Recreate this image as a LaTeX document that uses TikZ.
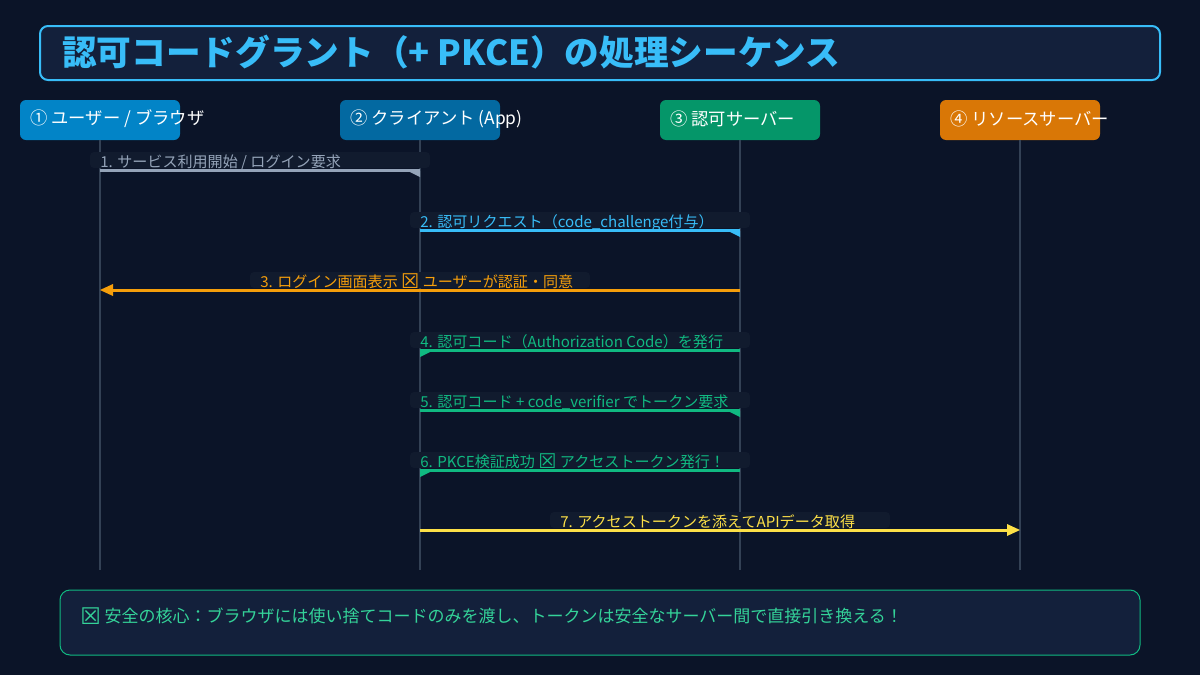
\documentclass[tikz,border=0pt]{standalone}
\usepackage{fontspec}
\setmainfont{Noto Sans CJK JP}
\newfontfamily\symfont{DejaVu Sans}
\usetikzlibrary{calc}
\definecolor{bgc}{HTML}{0B1428}
\definecolor{panel}{HTML}{13203B}
\definecolor{titlec}{HTML}{38BDF8}
\definecolor{labelbg}{HTML}{111B2E}
\definecolor{lifec}{HTML}{334155}
\definecolor{hA}{HTML}{0284C7}
\definecolor{hB}{HTML}{0369A1}
\definecolor{hC}{HTML}{059669}
\definecolor{hD}{HTML}{D97706}
\definecolor{mgray}{HTML}{94A3B8}
\definecolor{mblue}{HTML}{38BDF8}
\definecolor{morange}{HTML}{F59E0B}
\definecolor{mgreen}{HTML}{10B981}
\definecolor{myellow}{HTML}{FDE047}
\definecolor{foottext}{HTML}{34D399}
\newcommand{\xbox}{\raisebox{-0.1em}{\scalebox{1.35}{\symfont ☒}}}
\tikzset{
  headbox/.style={rounded corners=4.5pt, minimum width=120pt, minimum height=30pt, inner sep=0pt},
  headtext/.style={anchor=west, text=white, font=\fontsize{13}{15}\selectfont, inner sep=0pt},
  lifeline/.style={draw=lifec, line width=1.5pt},
  lblbg/.style={fill=labelbg, rounded corners=3pt, minimum width=255pt, minimum height=12pt, inner sep=0pt},
  lbltext/.style={anchor=base west, font=\fontsize{11.3}{13}\selectfont, inner sep=0pt},
  msg/.style={line width=2.25pt},
}
\begin{document}
\begin{tikzpicture}[x=0.75pt,y=-0.75pt]
\useasboundingbox (0,0) rectangle (1200,675);
\fill[bgc] (0,0) rectangle (1200,675);
% title
\node[draw=titlec, fill=panel, line width=1.5pt, rounded corners=6pt, minimum width=840pt, minimum height=40.5pt, inner sep=0pt] (title) at (600,53) {};
\node[anchor=west, text=titlec, inner sep=0pt, font=\fontsize{26}{30}\bfseries\selectfont] (titletext) at (62,52) {認可コードグラント（+ PKCE）の処理シーケンス};
% heads
\node[headbox, fill=hA] (h1) at (100,120) {};
\node[headbox, fill=hB] (h2) at (420,120) {};
\node[headbox, fill=hC] (h3) at (740,120) {};
\node[headbox, fill=hD] (h4) at (1020,120) {};
\node[headtext] (h1t) at (30,119) {① ユーザー / ブラウザ};
\node[headtext] (h2t) at (350,119) {② クライアント (App)};
\node[headtext] (h3t) at (670,119) {③ 認可サーバー};
\node[headtext] (h4t) at (950,119) {④ リソースサーバー};
% lifelines
\coordinate (e1) at (100,570);
\coordinate (e2) at (420,570);
\coordinate (e3) at (740,570);
\coordinate (e4) at (1020,570);
\draw[lifeline] (h1.south) -- (e1);
\draw[lifeline] (h2.south) -- (e2);
\draw[lifeline] (h3.south) -- (e3);
\draw[lifeline] (h4.south) -- (e4);
% message coordinates
\coordinate (m1a) at (100,170); \coordinate (m1b) at (420,170);
\coordinate (m2a) at (420,230); \coordinate (m2b) at (740,230);
\coordinate (m3a) at (740,290); \coordinate (m3b) at (100,290);
\coordinate (m4a) at (740,350); \coordinate (m4b) at (420,350);
\coordinate (m5a) at (420,410); \coordinate (m5b) at (740,410);
\coordinate (m6a) at (740,470); \coordinate (m6b) at (420,470);
\coordinate (m7a) at (420,530); \coordinate (m7b) at (1020,530);
% labels
\node[lblbg] (l1bg) at (260,160) {};
\node[lbltext, text=mgray] (l1) at (100,167) {1. サービス利用開始 / ログイン要求};
\node[lblbg] (l2bg) at (580,220) {};
\node[lbltext, text=mblue] (l2) at (420,227.5) {2. 認可リクエスト（code\_challenge付与）};
\node[lblbg] (l3bg) at (420,280) {};
\node[lbltext, text=morange] (l3) at (260,287) {3. ログイン画面表示 \xbox{} ユーザーが認証・同意};
\node[lblbg] (l4bg) at (580,340) {};
\node[lbltext, text=mgreen] (l4) at (420,347) {4. 認可コード（Authorization Code）を発行};
\node[lblbg] (l5bg) at (580,400) {};
\node[lbltext, text=mgreen] (l5) at (420,407.5) {5. 認可コード + code\_verifier でトークン要求};
\node[lblbg] (l6bg) at (580,460) {};
\node[lbltext, text=mgreen] (l6) at (420,467) {6. PKCE検証成功 \xbox{} アクセストークン発行！};
\node[lblbg] (l7bg) at (720,520) {};
\node[lbltext, text=myellow] (l7) at (560,527) {7. アクセストークンを添えてAPIデータ取得};
% messages
\draw[msg, mgray] (m1a) -- (m1b);
\fill[mgray] ($(m1b)+(-12,1)$) -- ($(m1b)+(0,1)$) -- ($(m1b)+(0,7)$) -- cycle;
\draw[msg, mblue] (m2a) -- (m2b);
\fill[mblue] ($(m2b)+(-12,1)$) -- ($(m2b)+(0,1)$) -- ($(m2b)+(0,7)$) -- cycle;
\draw[msg, morange] (m3a) -- ($(m3b)+(10,0)$);
\fill[morange] (m3b) -- ($(m3b)+(13,-6)$) -- ($(m3b)+(13,6)$) -- cycle;
\draw[msg, mgreen] (m4a) -- (m4b);
\fill[mgreen] ($(m4b)+(12,1)$) -- ($(m4b)+(0,1)$) -- ($(m4b)+(0,7)$) -- cycle;
\draw[msg, mgreen] (m5a) -- (m5b);
\fill[mgreen] ($(m5b)+(-12,1)$) -- ($(m5b)+(0,1)$) -- ($(m5b)+(0,7)$) -- cycle;
\draw[msg, mgreen] (m6a) -- (m6b);
\fill[mgreen] ($(m6b)+(12,1)$) -- ($(m6b)+(0,1)$) -- ($(m6b)+(0,7)$) -- cycle;
\draw[msg, myellow] (m7a) -- ($(m7b)+(-10,0)$);
\fill[myellow] (m7b) -- ($(m7b)+(-13,-6)$) -- ($(m7b)+(-13,6)$) -- cycle;
% footer
\node[draw=mgreen, fill=panel, line width=0.75pt, rounded corners=7.5pt, minimum width=810pt, minimum height=48.75pt, inner sep=0pt] (foot) at (600,622.5) {};
\node[anchor=west, text=foottext, inner sep=0pt, font=\fontsize{12.75}{15}\selectfont] (foottext) at (80,616) {\xbox{} 安全の核心：ブラウザには使い捨てコードのみを渡し、トークンは安全なサーバー間で直接引き換える！};
\end{tikzpicture}
\end{document}
